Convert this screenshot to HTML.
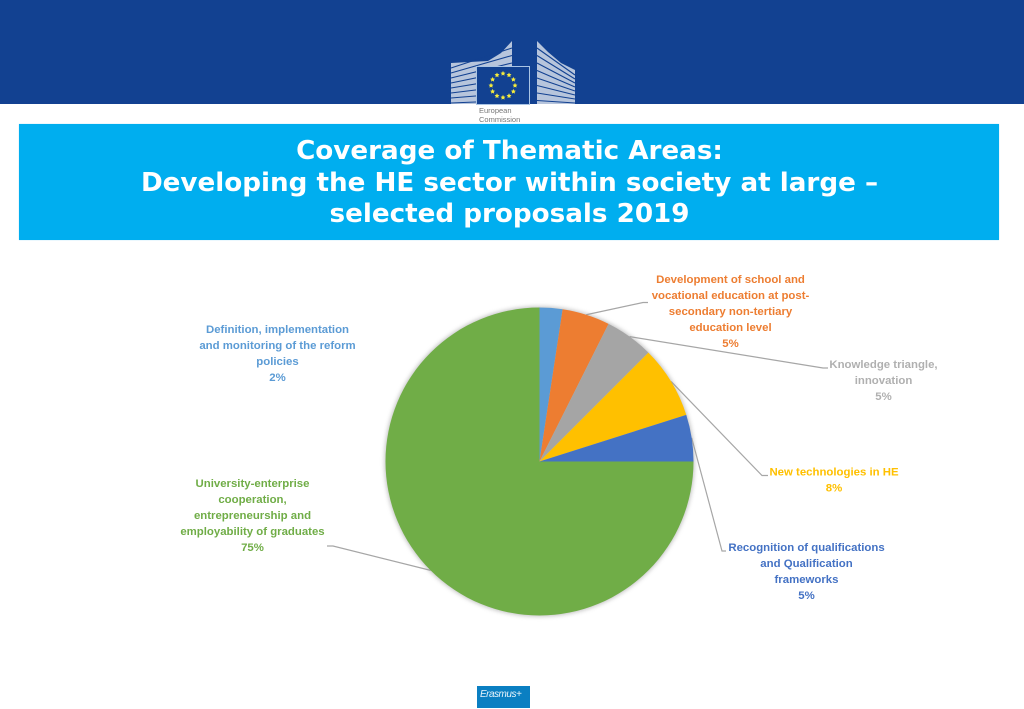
<!DOCTYPE html>
<html lang="en">
<head>
<meta charset="utf-8">
<title>Coverage of Thematic Areas</title>
<style>
html,body{margin:0;padding:0;background:#fff;}
#slide{position:relative;width:1024px;height:709px;overflow:hidden;background:#fff;}
#top-band{position:absolute;left:0;top:0;width:1024px;height:104px;background:#124191;}
#title-band{position:absolute;left:19px;top:124px;width:980px;height:116px;background:#00aeef;box-shadow:0 0 1px #9adcf7;}
#title{position:absolute;left:0;top:136px;width:1019px;text-align:center;color:#fff;font:bold 26.2px/31.5px "DejaVu Sans",sans-serif;}
#chart{position:absolute;left:0;top:0;}
#erasmus{position:absolute;left:477px;top:686px;width:53px;height:22px;background:#0a7fc2;color:#e8f4fb;font:italic 10px/17px "Liberation Sans",sans-serif;letter-spacing:-.5px;text-indent:3px;}
</style>
</head>
<body>
<div id="slide">
<div id="top-band"></div>
<svg id="logo" width="1024" height="130" style="position:absolute;left:0;top:0">
  <g fill="#d5dde9">
    <polygon points="451,63 488,61 501,53 512,41 512,104 451,104" opacity=".85"/>
    <polygon points="537,41 548,52 561,63 575,70 575,104 537,104" opacity=".85"/>
  </g>
  <g stroke="#124191" stroke-width="1.1" id="logo-lines"></g>
  <rect x="476.5" y="66.5" width="53" height="38" fill="#124191" stroke="#a9c4e4" stroke-width="1"/>
  <g id="logo-stars" fill="#f6ec3c"></g>
  <text x="479" y="113" font-family="Liberation Sans,sans-serif" font-size="7.5" fill="#777">European</text>
  <text x="479" y="122" font-family="Liberation Sans,sans-serif" font-size="7.5" fill="#777">Commission</text>
</svg>
<div id="title-band"></div>
<div id="title">Coverage of Thematic Areas:<br>Developing the HE sector within society at large –<br>selected proposals 2019</div>
<svg id="chart" width="1024" height="709">
  <defs>
    <filter id="pie-shadow" x="-10%" y="-10%" width="120%" height="120%">
      <feGaussianBlur stdDeviation="2"/>
    </filter>
  </defs>
  <g id="leaders"></g>
  <circle id="pie-halo" cx="539.5" cy="461.5" r="155" fill="#999" filter="url(#pie-shadow)" opacity=".6"></circle>
  <g id="slices"></g>
  <g id="labels"></g>
</svg>
<div id="erasmus">Erasmus+</div>
</div>
<script>
// Chart data
var categories = [
  ["Definition, implementation", "and monitoring of the reform", "policies"],
  ["Development of school and", "vocational education at post-", "secondary non-tertiary", "education level"],
  ["Knowledge triangle,", "innovation"],
  ["New technologies in HE"],
  ["Recognition of qualifications", "and Qualification", "frameworks"],
  ["University-enterprise", "cooperation,", "entrepreneurship and", "employability of graduates"]
];
var sliceValues = [2.4, 5.0, 5.1, 7.6, 4.9, 75];
var printedValues = ["2%", "5%", "5%", "8%", "5%", "75%"];
var sliceColors = ["#5b9bd5", "#ed7d31", "#a5a5a5", "#ffc000", "#4472c4", "#70ad47"];
var labelColors = ["#5b9bd5", "#ed7d31", "#b0b0b0", "#ffc000", "#4472c4", "#70ad47"];
var sliceKeys = ["definition", "development", "knowledge", "new-tech", "recognition", "university"];
var labelAnchorX = [277.5, 730.5, 883.5, 834, 806.5, 252.5];
var labelTopY = [333, 283, 368, 475.5, 551, 487];
var leaderBends = [null, [643, 302.5], [823, 368], [762, 475.5], [722, 551], [333, 546]];
var leaderTails = [0, 5, 5, 6, 4, -6];

var NS = "http://www.w3.org/2000/svg";
var cx = 539.5, cy = 461.5, r = 154;
function total() { return sliceValues.reduce(function (a, b) { return a + b; }, 0); }
function angleOf(v) { return v / total() * 2 * Math.PI; }
function px(a, rad) { return cx + rad * Math.sin(a); }
function py(a, rad) { return cy - rad * Math.cos(a); }

var slicesG = document.getElementById("slices");
var leadersG = document.getElementById("leaders");
var labelsG = document.getElementById("labels");
var start = 0;
sliceValues.forEach(function (v, i) {
  var sweep = angleOf(v), end = start + sweep;
  var p = document.createElementNS(NS, "path");
  p.setAttribute("d", "M" + cx + " " + cy + "L" + px(start, r) + " " + py(start, r) +
    "A" + r + " " + r + " 0 " + (sweep > Math.PI ? 1 : 0) + " 1 " + px(end, r) + " " + py(end, r) + "Z");
  p.setAttribute("fill", sliceColors[i]);
  
  
  slicesG.appendChild(p);

  if (leaderBends[i]) {
    var mid = start + sweep / 2;
    var l = document.createElementNS(NS, "polyline");
    l.setAttribute("points", px(mid, r) + "," + py(mid, r) + " " + leaderBends[i][0] + "," + leaderBends[i][1] + " " +
      (leaderBends[i][0] + leaderTails[i]) + "," + leaderBends[i][1]);
    l.setAttribute("fill", "none");
    l.setAttribute("stroke", "#a6a6a6");
    l.setAttribute("stroke-width", "1.2");
    
    
    leadersG.appendChild(l);
  }

  var lines = categories[i].concat([printedValues[i]]);
  var t = document.createElementNS(NS, "text");
  t.setAttribute("text-anchor", "middle");
  t.setAttribute("font-family", "Liberation Sans, sans-serif");
  t.setAttribute("font-weight", "bold");
  t.setAttribute("font-size", "11.4");
  t.setAttribute("fill", labelColors[i]);
  
  
  lines.forEach(function (s, j) {
    var ts = document.createElementNS(NS, "tspan");
    ts.setAttribute("x", labelAnchorX[i]);
    ts.setAttribute("y", labelTopY[i] + j * 16);
    ts.textContent = s;
    t.appendChild(ts);
  });
  labelsG.appendChild(t);
  start = end;
});

// Logo details (decorative)
var linesG = document.getElementById("logo-lines");
for (var k = 0; k < 8; k++) {
  var a = document.createElementNS(NS, "line");
  a.setAttribute("x1", 451); a.setAttribute("y1", 68 + k * 5);
  a.setAttribute("x2", 512); a.setAttribute("y2", 48 + k * 7.5);
  linesG.appendChild(a);
  var b = document.createElementNS(NS, "line");
  b.setAttribute("x1", 537); b.setAttribute("y1", 48 + k * 7.5);
  b.setAttribute("x2", 575); b.setAttribute("y2", 75 + k * 4);
  linesG.appendChild(b);
}
var starsG = document.getElementById("logo-stars");
for (var n = 0; n < 12; n++) {
  var th = n / 12 * 2 * Math.PI;
  var sx = 503 + 12 * Math.sin(th), sy = 85.5 - 12 * Math.cos(th), pts = [];
  for (var q = 0; q < 10; q++) {
    var rr = q % 2 ? 1.3 : 2.6, ang = q / 10 * 2 * Math.PI;
    pts.push((sx + rr * Math.sin(ang)) + "," + (sy - rr * Math.cos(ang)));
  }
  var st = document.createElementNS(NS, "polygon");
  st.setAttribute("points", pts.join(" "));
  starsG.appendChild(st);
}
</script>
</body>
</html>
